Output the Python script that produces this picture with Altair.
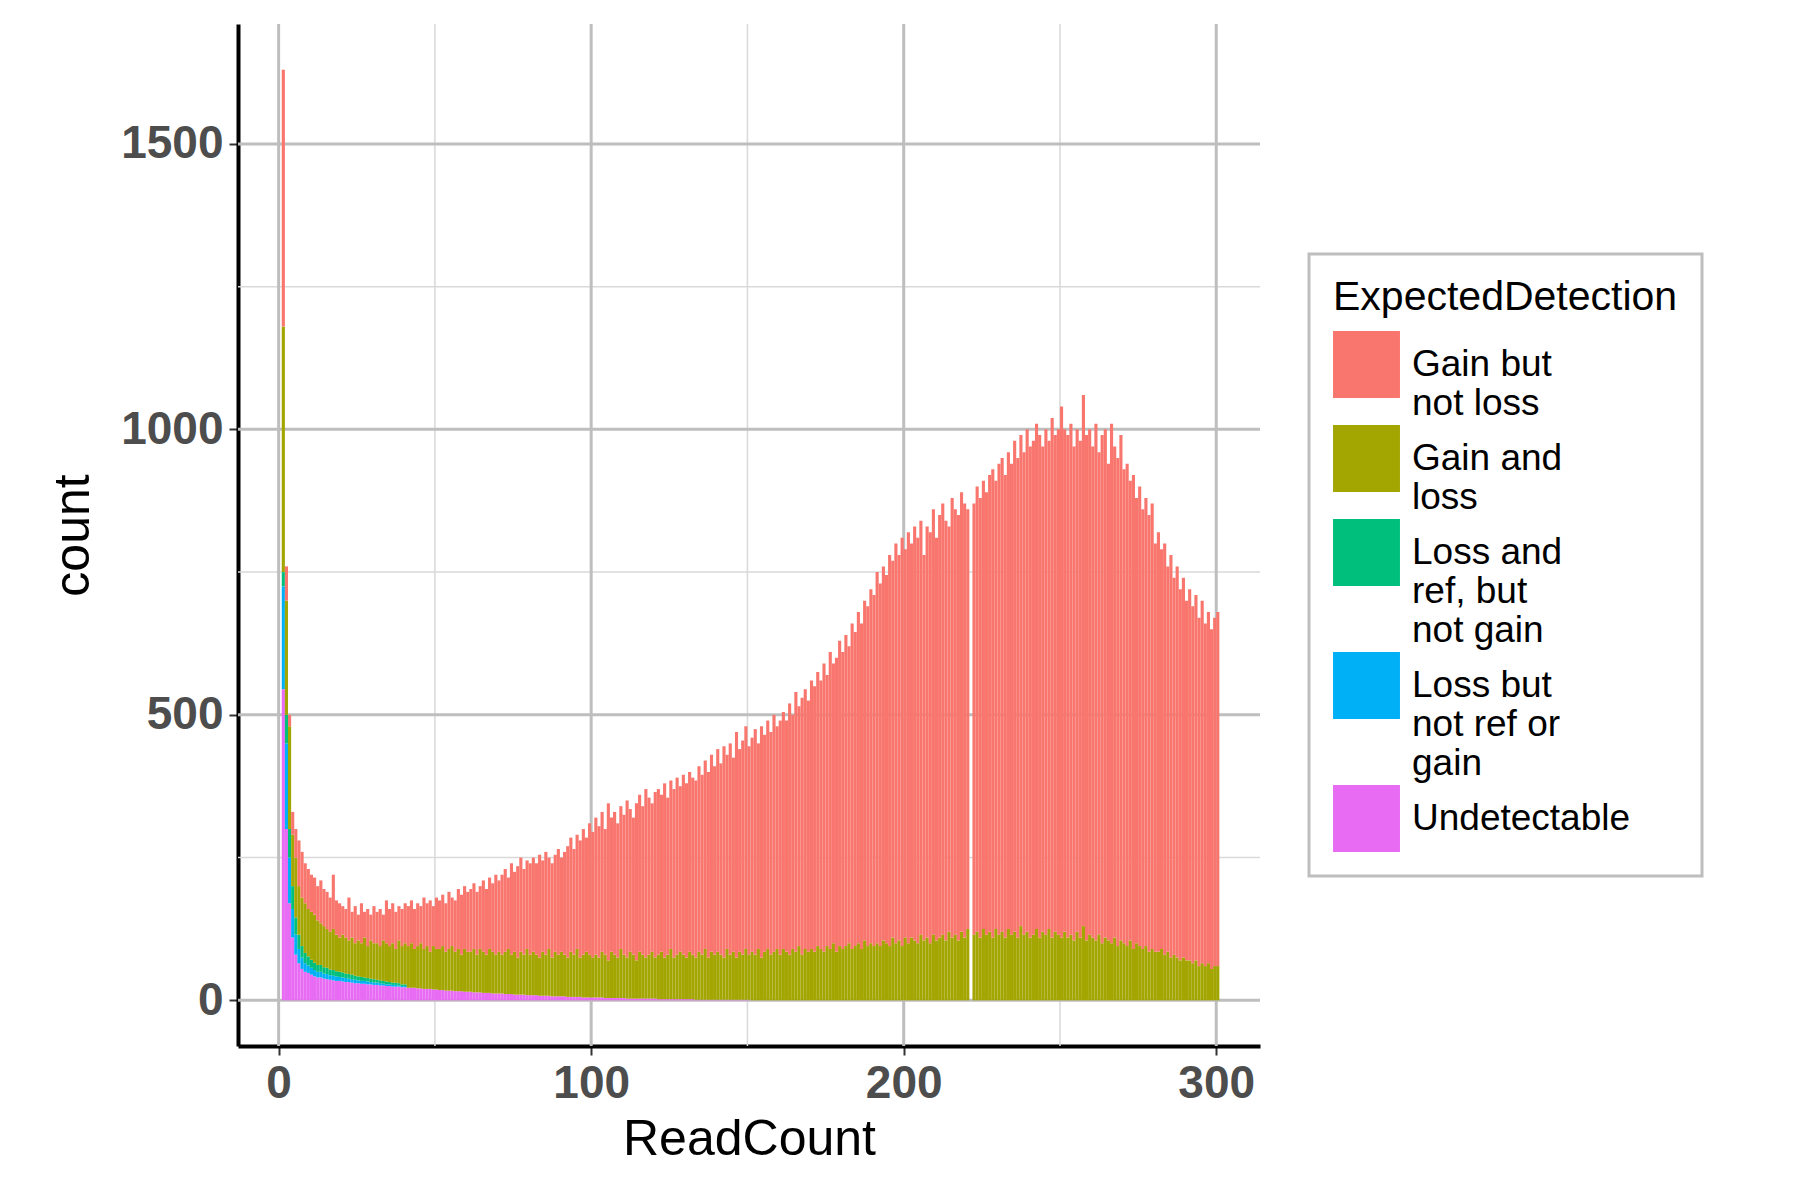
import pandas as pd
import altair as alt

# Data: per-bin values (ReadCount 1..300)
read_count = list(range(1, 301))

top_total = [
    1630, 760, 500, 330, 300, 280, 260, 240, 230, 220,
    215, 200, 210, 195, 190, 180, 220, 175, 170, 165,
    160, 180, 155, 165, 150, 170, 155, 160, 150, 165,
    155, 160, 150, 175, 160, 170, 155, 165, 160, 170,
    165, 175, 160, 170, 165, 180, 170, 175, 165, 180,
    175, 185, 170, 190, 180, 175, 195, 185, 200, 190,
    195, 205, 190, 200, 210, 195, 215, 205, 220, 210,
    220, 230, 215, 240, 225, 235, 250, 230, 245, 240,
    250, 240, 255, 245, 260, 250, 240, 255, 265, 250,
    260, 270, 285, 265, 290, 280, 300, 285, 310, 295,
    320, 305, 330, 300, 345, 320, 330, 310, 340, 325,
    350, 335, 320, 345, 360, 340, 370, 355, 345, 365,
    370, 360, 380, 355, 385, 370, 390, 375, 395, 380,
    400, 390, 385, 410, 395, 420, 400, 430, 410, 440,
    415, 445, 430, 450, 425, 470, 440, 455, 480, 445,
    460, 475, 450, 480, 465, 490, 470, 500, 480, 490,
    505, 490, 520, 500, 540, 515, 530, 545, 525, 560,
    550, 575, 560, 590, 570, 610, 590, 600, 630, 610,
    640, 620, 660, 645, 680, 660, 700, 690, 720, 710,
    750, 730, 760, 745, 780, 770, 800, 780, 810, 790,
    820, 800, 830, 810, 840, 780, 830, 820, 860, 810,
    850, 870, 840, 830, 880, 860, 850, 890, 870, 860,
    0, 870, 900, 880, 910, 890, 920, 930, 910, 940,
    950, 920, 960, 940, 980, 950, 990, 960, 1000, 970,
    980, 1010, 990, 970, 1000, 980, 1020, 990, 1000, 1040,
    1000, 990, 1010, 970, 1000, 980, 1060, 990, 1000, 970,
    1010, 960, 990, 1000, 940, 1010, 970, 950, 990, 930,
    940, 910, 920, 880, 900, 860, 880, 850, 870, 800,
    820, 790, 800, 760, 780, 740, 760, 720, 740, 700,
    720, 690, 710, 670, 700, 660, 680, 650, 670, 680,
]

top_olive = [
    1180, 700, 480, 290, 250, 200, 180, 170, 160, 155,
    150, 140, 135, 130, 125, 120, 125, 115, 110, 115,
    110, 105, 110, 100, 105, 100, 110, 95, 105, 100,
    100, 95, 105, 100, 95, 100, 90, 105, 95, 100,
    95, 100, 90, 95, 100, 90, 95, 85, 95, 90,
    90, 95, 85, 90, 95, 85, 90, 80, 90, 85,
    85, 90, 80, 90, 85, 80, 90, 85, 80, 85,
    80, 85, 90, 80, 85, 75, 85, 80, 90, 80,
    85, 80, 75, 85, 80, 90, 75, 85, 80, 85,
    80, 75, 85, 80, 90, 75, 80, 85, 80, 75,
    80, 75, 85, 80, 70, 85, 80, 75, 90, 80,
    75, 85, 80, 70, 85, 80, 75, 80, 85, 75,
    80, 85, 75, 80, 90, 75, 80, 85, 80, 75,
    85, 80, 75, 85, 80, 90, 75, 85, 80, 85,
    80, 75, 90, 80, 85, 75, 85, 80, 90, 80,
    85, 80, 90, 75, 85, 90, 80, 85, 90, 80,
    90, 85, 80, 90, 85, 95, 80, 90, 85, 90,
    85, 95, 90, 85, 95, 90, 100, 85, 95, 90,
    95, 100, 90, 95, 100, 90, 105, 95, 100, 95,
    100, 95, 105, 100, 95, 110, 100, 105, 95, 110,
    100, 110, 105, 100, 115, 105, 110, 100, 115, 105,
    110, 115, 105, 120, 110, 115, 105, 120, 110, 125,
    0, 115, 120, 110, 125, 115, 120, 110, 125, 115,
    120, 110, 125, 115, 120, 110, 130, 115, 120, 110,
    115, 125, 110, 120, 115, 125, 110, 120, 115, 110,
    120, 110, 115, 105, 120, 110, 130, 105, 115, 110,
    105, 115, 100, 110, 105, 100, 110, 95, 105, 100,
    95, 105, 90, 100, 95, 90, 95, 85, 90, 85,
    85, 90, 80, 85, 75, 80, 75, 70, 75, 70,
    70, 65, 70, 60, 65, 60, 65, 55, 60, 60,
]

pink_cnt = [
    545, 300, 170, 110, 80, 65, 55, 50, 48, 45,
    42, 40, 40, 38, 37, 36, 35, 34, 34, 33,
    32, 32, 31, 30, 30, 29, 29, 28, 28, 27,
    27, 26, 26, 25, 25, 24, 24, 24, 23, 23,
    22, 22, 22, 21, 21, 20, 20, 20, 19, 19,
    18, 18, 17, 17, 17, 16, 16, 16, 15, 15,
    15, 14, 14, 14, 13, 13, 13, 12, 12, 12,
    12, 11, 11, 11, 10, 10, 10, 10, 9, 9,
    9, 9, 8, 8, 8, 8, 7, 7, 7, 7,
    7, 6, 6, 6, 6, 6, 5, 5, 5, 5,
    5, 5, 5, 4, 4, 4, 4, 4, 4, 4,
    3, 3, 3, 3, 3, 3, 3, 3, 3, 3,
    2, 2, 2, 2, 2, 2, 2, 2, 2, 2,
    2, 2, 1, 1, 1, 1, 1, 1, 1, 1,
    1, 1, 1, 1, 1, 1, 1, 1, 1, 1,
] + [0] * 150

blue_cnt = [
    180, 150, 80, 50, 35, 25, 20, 15, 13, 12,
    11, 10, 10, 9, 9, 8, 8, 8, 7, 7,
    7, 6, 6, 6, 5, 5, 5, 5, 4, 4,
    4, 4, 3, 3, 3, 3, 3, 2, 2, 2,
] + [0] * 260

green_cnt = [
    25, 50, 50, 40, 30, 25, 20, 18, 16, 14,
    13, 12, 12, 11, 11, 10, 10, 9, 9, 9,
    8, 8, 8, 7, 7, 7, 6, 6, 6, 6,
    5, 5, 5, 5, 4, 4, 4, 4, 3, 3,
] + [0] * 260

categories = ['Gain but not loss', 'Gain and loss', 'Loss and ref, but not gain',
              'Loss but not ref or gain', 'Undetectable']
colors = ['#F8766D', '#A3A500', '#00BF7D', '#00B0F6', '#E76BF3']

# stack bottom-up: Undetectable first, Gain but not loss on top
rows = []
for i, rc in enumerate(read_count):
    olive = max(top_olive[i] - pink_cnt[i] - blue_cnt[i] - green_cnt[i], 0)
    red = max(top_total[i] - top_olive[i], 0)
    vals = [red, olive, green_cnt[i], blue_cnt[i], pink_cnt[i]]
    base = 0
    for k in range(4, -1, -1):
        rows.append({'x': rc, 'x2': rc + 1, 'y': base, 'y2': base + vals[k],
                     'cat': categories[k]})
        base += vals[k]
df = pd.DataFrame(rows)
df = df[df['y2'] > df['y']]

font = 'Liberation Sans'
xdom = [-13, 314]
ydom = [-80, 1710]

major_x = pd.DataFrame({'v': [0, 100, 200, 300]})
minor_x = pd.DataFrame({'v': [50, 150, 250]})
major_y = pd.DataFrame({'v': [0, 500, 1000, 1500]})
minor_y = pd.DataFrame({'v': [250, 750, 1250]})

xs = alt.Scale(domain=xdom, nice=False, zero=False)
ys = alt.Scale(domain=ydom, nice=False, zero=False)

def vrule(d, w, c):
    return alt.Chart(d).mark_rule(color=c, strokeWidth=w).encode(
        x=alt.X('v:Q', scale=xs))

def hrule(d, w, c):
    return alt.Chart(d).mark_rule(color=c, strokeWidth=w).encode(
        y=alt.Y('v:Q', scale=ys))

grid = (vrule(minor_x, 1.5, '#d9d9d9') + hrule(minor_y, 1.5, '#d9d9d9') +
        vrule(major_x, 3, '#bebebe') + hrule(major_y, 3, '#bebebe'))

label_expr = ("datum.label == 'Gain but not loss' ? ['Gain but', 'not loss'] : "
              "datum.label == 'Gain and loss' ? ['Gain and', 'loss'] : "
              "datum.label == 'Loss and ref, but not gain' ? ['Loss and', 'ref, but', 'not gain'] : "
              "datum.label == 'Loss but not ref or gain' ? ['Loss but', 'not ref or', 'gain'] : datum.label")

bars = alt.Chart(df).mark_rect(strokeWidth=0).encode(
    x=alt.X('x:Q', scale=xs, title='ReadCount',
            axis=alt.Axis(values=[0, 100, 200, 300], grid=False, format='d')),
    x2='x2:Q',
    y=alt.Y('y:Q', scale=ys, title='count',
            axis=alt.Axis(values=[0, 500, 1000, 1500], grid=False, format='d')),
    y2='y2:Q',
    color=alt.Color('cat:N', title='ExpectedDetection',
                    scale=alt.Scale(domain=categories, range=colors),
                    legend=alt.Legend(orient='none', legendX=1071, legendY=230,
                                      labelExpr=label_expr)),
)

chart = (grid + bars).properties(
    width=1022, height=1022, background='white',
    padding={'left': 40, 'top': 14, 'right': 5, 'bottom': 5}
).configure_view(stroke=None).configure_axis(
    domainColor='black', domainWidth=4,
    tickColor='#333333', tickSize=9, tickWidth=2,
    labelFont=font, labelFontSize=46, labelFontWeight='bold', labelColor='#4d4d4d',
    titleFont=font, titleFontSize=50, titleFontWeight='normal', titleColor='black',
    labelPadding=6,
).configure_axisX(titlePadding=8).configure_axisY(titlePadding=22).configure_legend(
    titleFont=font, titleFontSize=41, titleFontWeight='normal', titleColor='black',
    titleLimit=600, titlePadding=12,
    labelFont=font, labelFontSize=37, labelColor='black', labelLimit=500,
    symbolType='square', symbolSize=4480, symbolStrokeWidth=0, symbolOpacity=1,
    rowPadding=3, strokeColor='#bebebe', strokeWidth=3, padding=24,
    fillColor='white', labelOffset=12,
)

chart.save('out.html', embed_options={'renderer': 'svg', 'actions': False})
